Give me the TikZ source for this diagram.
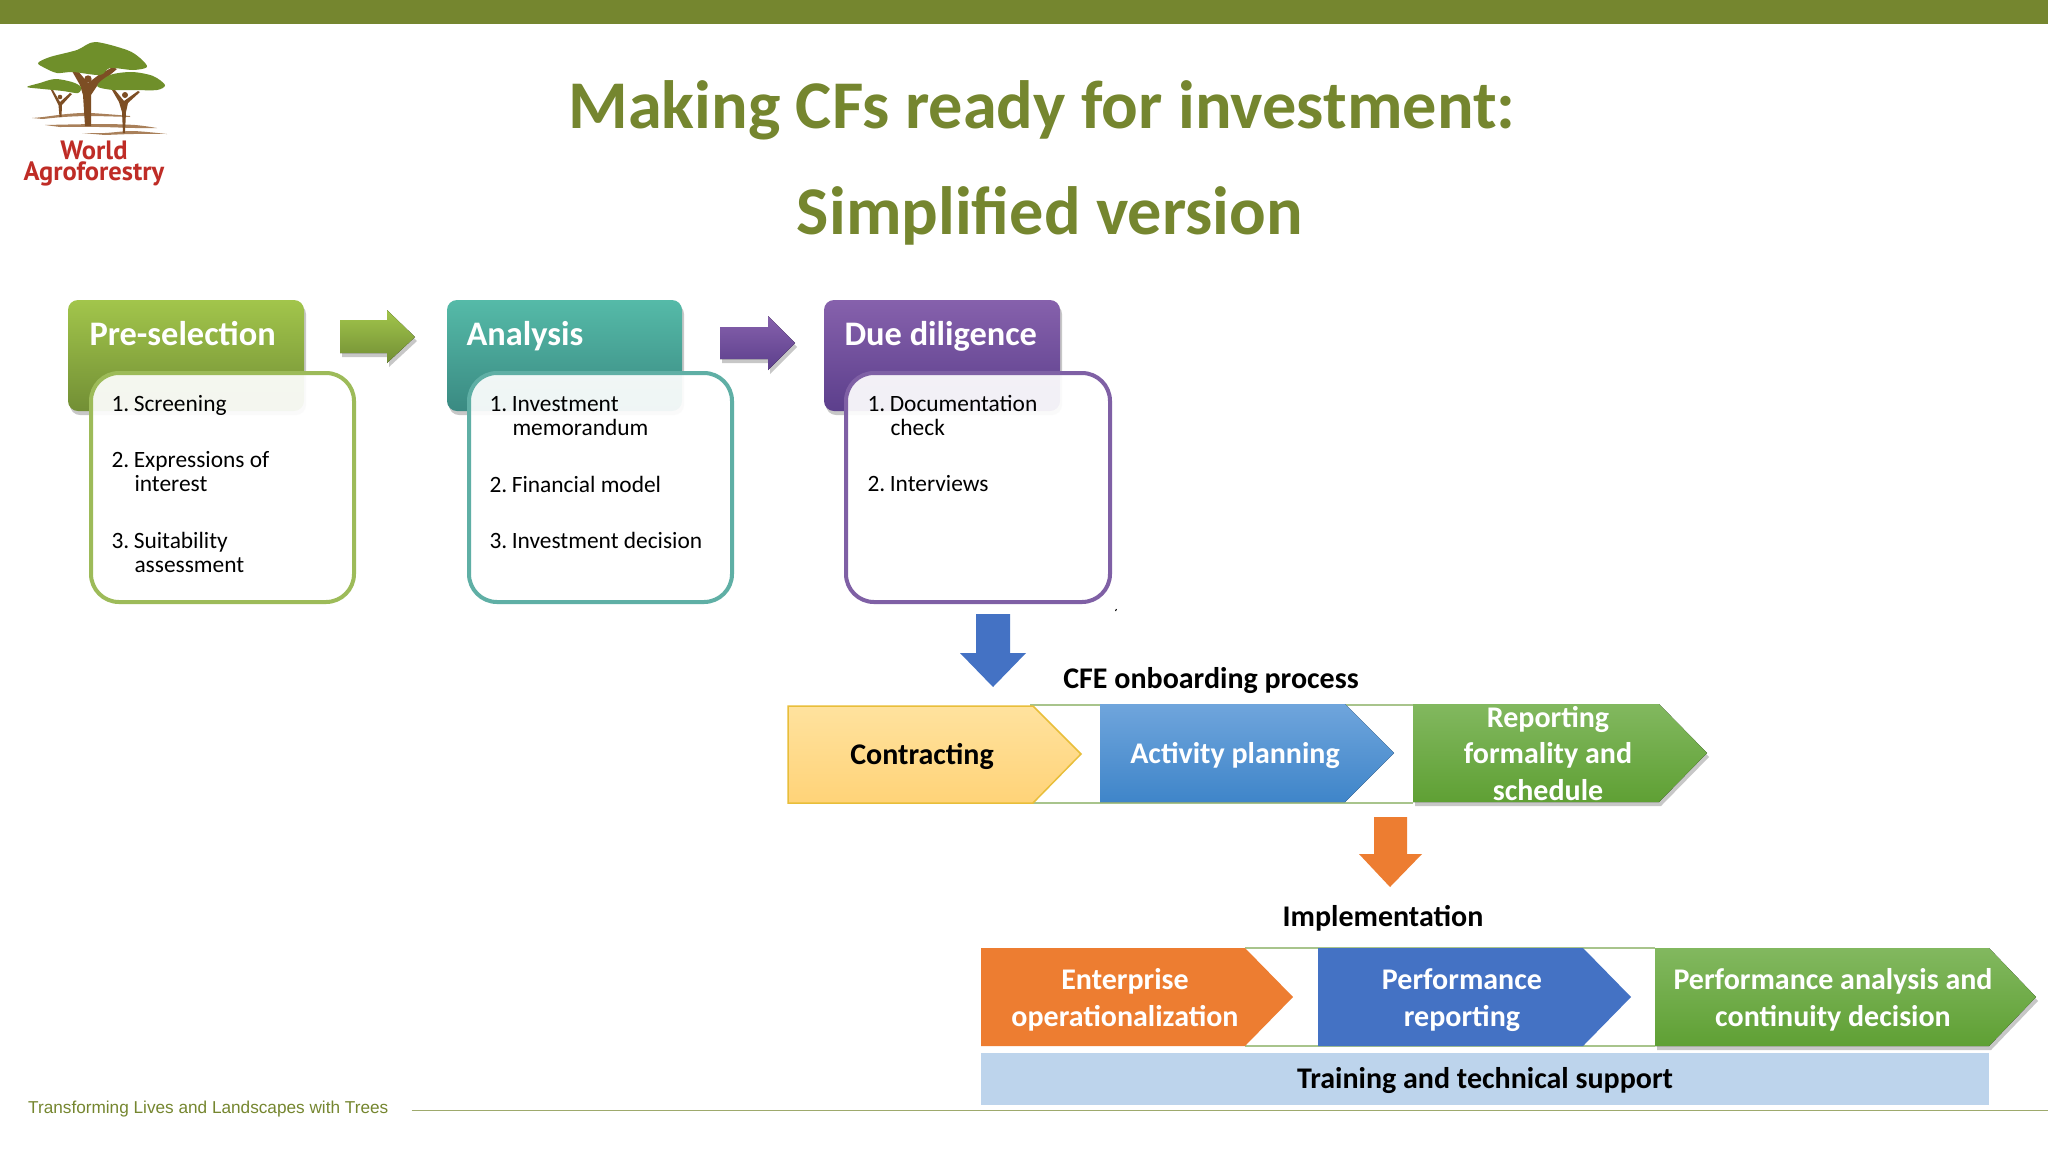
\documentclass[tikz,border=0pt]{standalone}
\usepackage{fontspec}
\usepackage{xcolor}
\setmainfont{Carlito}
\newfontfamily\footfont{Liberation Sans}
\newfontfamily\logofont{PT Sans}
\usetikzlibrary{shadows}

\definecolor{barolive}{HTML}{75862F}
\definecolor{logored}{HTML}{BF2C26}
\definecolor{logobrown}{HTML}{7D4E24}
\definecolor{logotan}{HTML}{A9805A}
\definecolor{logogreen}{HTML}{6F8F2A}
\definecolor{lineline}{HTML}{A8C48C}
\definecolor{greentop}{HTML}{A2C54B}
\definecolor{greenbot}{HTML}{728F35}
\definecolor{tealtop}{HTML}{55BAA8}
\definecolor{tealbot}{HTML}{3A8A82}
\definecolor{purpletop}{HTML}{8661AC}
\definecolor{purplebot}{HTML}{5C3F8C}
\definecolor{greenedge}{HTML}{9DBB59}
\definecolor{tealedge}{HTML}{5FAFA5}
\definecolor{purpleedge}{HTML}{7F60A5}
\definecolor{bluearrow}{HTML}{4472C4}
\definecolor{orangearrow}{HTML}{ED7D31}
\definecolor{contracttop}{HTML}{FFE29E}
\definecolor{contractbot}{HTML}{FFD378}
\definecolor{contractedge}{HTML}{E8BE3A}
\definecolor{activitytop}{HTML}{6FA5DC}
\definecolor{activitybot}{HTML}{3F85C9}
\definecolor{steptop}{HTML}{82B85F}
\definecolor{stepbot}{HTML}{5FA034}
\definecolor{trainblue}{HTML}{BDD4EC}

\tikzset{
  titletxt/.style={text=barolive, font=\fontsize{68.3}{72}\selectfont\bfseries},
  headtxt/.style={text=white, anchor=base west, font=\fontsize{34.4}{36}\selectfont\bfseries},
  itemtxt/.style={text=black, anchor=west, align=left, font=\fontsize{23.4}{24}\selectfont},
  steptxt/.style={text=white, align=center, font=\fontsize{30}{36.5}\selectfont\bfseries},
  blacktxt/.style={text=black, align=center, font=\fontsize{30}{36}\selectfont\bfseries},
  logotxt/.style={text=logored, inner sep=0pt, align=center, font=\logofont\fontsize{26.5}{21}\selectfont\bfseries},
  softshadow/.style={drop shadow={shadow xshift=2pt, shadow yshift=-4pt, opacity=0.22, fill=black}},
  listbox/.style={line width=4pt, rounded corners=28pt, fill=white, fill opacity=0.92},
}

\begin{document}
\begin{tikzpicture}[x=1pt, y=-1pt]
\useasboundingbox (0,0) rectangle (2048,1152);
\fill[white] (0,0) rectangle (2048,1152);
% top bar
\fill[barolive] (0,0) rectangle (2048,24);
% logo
\fill[logotan] plot[smooth] coordinates {(32,118) (43,117) (67,114) (90,113) (130,116)} -- plot[smooth] coordinates {(130,117) (90,116) (63,117) (43,119)} -- cycle;
\fill[logotan] plot[smooth] coordinates {(45,125) (100,124) (135,125) (157,128)} -- plot[smooth] coordinates {(157,128) (135,128) (100,127) (60,127)} -- cycle;
\fill[logotan] plot[smooth] coordinates {(82,133) (105,133) (133,131) (167,134)} -- plot[smooth] coordinates {(167,134) (133,134) (105,135)} -- cycle;
\fill[logobrown] (72,71) -- (78,71) -- (88,83) -- (100,74) -- (113,67) -- (117,69) -- (97,86) -- (91,95) -- (91,126) -- (85,126) -- (83,95) -- (80,85) -- cycle;
\fill[logobrown] (112,90) -- (115,90) -- (124,101) -- (138,91) -- (140,92) -- (128,103) -- (126,112) -- (125,133) -- (123,133) -- (122,112) -- (119,102) -- cycle;
\fill[logobrown] (51,90) -- (53,90) -- (60,102) -- (70,93) -- (72,94) -- (62,105) -- (61.5,117) -- (59.5,117) -- (58.5,105) -- cycle;
\fill[logogreen] plot[smooth cycle] coordinates {(38,63) (50,57) (77,50) (95,42) (127,50) (140,58) (147,67) (133,70) (110,68) (100,75) (73,72) (57,73) (45,68)};
\fill[logogreen] plot[smooth cycle] coordinates {(27,87) (40,83) (55,79) (72,82) (81,87) (78,93) (63,91) (43,89)};
\fill[logogreen] plot[smooth cycle] coordinates {(97,86) (110,75) (132,72) (153,76) (165,85) (157,90) (133,90) (113,90)};
\fill[logobrown] (88,79) circle (3.7);
\fill[logobrown] (125,95) circle (3);
\fill[logobrown] (60,97) circle (2.3);
\node[logotxt] (logoname) at (94,164) {World\\Agroforestry};
% title
\node[titletxt] (title1) at (1042,110) {Making CFs ready for investment:};
\node[titletxt] (title2) at (1050,216) {Simplified version};
% three stages
\draw[top color=greentop, bottom color=greenbot, draw=none, rounded corners=10pt, softshadow] (68,300) rectangle (304,411);
\draw[top color=tealtop, bottom color=tealbot, draw=none, rounded corners=10pt, softshadow] (447,300) rectangle (682,411);
\draw[top color=purpletop, bottom color=purplebot, draw=none, rounded corners=10pt, softshadow] (824,300) rectangle (1060,411);
\draw[listbox, draw=greenedge] (91,373) rectangle (354,602);
\draw[listbox, draw=tealedge] (469,373) rectangle (732,602);
\draw[listbox, draw=purpleedge] (846,373) rectangle (1110,602);
\node[headtxt] (presel) at (86,345) {Pre-selection};
\node[headtxt] (analysis) at (463,345) {Analysis};
\node[headtxt] (duedil) at (841,345) {Due diligence};
\node[itemtxt] (p1) at (108,405) {1.\hspace{4.5pt}Screening};
\node[itemtxt] (p2) at (108,472) {2.\hspace{4.5pt}Expressions of\\\hspace*{23pt}interest};
\node[itemtxt] (p3) at (108,552) {3.\hspace{4.5pt}Suitability\\\hspace*{23pt}assessment};
\node[itemtxt] (a1) at (486,416) {1.\hspace{4.5pt}Investment\\\hspace*{23pt}memorandum};
\node[itemtxt] (a2) at (486,484) {2.\hspace{4.5pt}Financial model};
\node[itemtxt] (a3) at (486,540) {3.\hspace{4.5pt}Investment decision};
\node[itemtxt] (d1) at (864,415) {1.\hspace{4.5pt}Documentation\\\hspace*{23pt}check};
\node[itemtxt] (d2) at (864,484) {2.\hspace{4.5pt}Interviews};
\draw[black, line width=1pt] (1116.5,609) -- (1115.5,611);
% block arrows
\fill[top color=greentop, bottom color=greenbot, softshadow] (340,320) -- (387,320) -- (387,310) -- (415,337) -- (387,363) -- (387,353) -- (340,353) -- cycle;
\fill[top color=purpletop, bottom color=purplebot, softshadow] (720,327) -- (768,327) -- (768,316) -- (795,343) -- (768,370) -- (768,359) -- (720,359) -- cycle;
\fill[bluearrow] (976,614) -- (1010,614) -- (1010,653) -- (1026,653) -- (993,687) -- (960,653) -- (976,653) -- cycle;
\fill[orangearrow] (1374,817) -- (1407,817) -- (1407,854) -- (1422,854) -- (1390,887) -- (1359,854) -- (1374,854) -- cycle;
% onboarding row
\node[blacktxt] (cfe) at (1211,680.5) {CFE onboarding process};
\draw[lineline, line width=2pt] (1030,705) -- (1413,705);
\draw[lineline, line width=2pt] (1030,803) -- (1413,803);
\draw[top color=contracttop, bottom color=contractbot, draw=contractedge, line width=1.5pt] (788,706) -- (1033,706) -- (1081,754) -- (1033,803) -- (788,803) -- cycle;
\fill[top color=activitytop, bottom color=activitybot] (1100,704) -- (1345,704) -- (1394,753) -- (1345,802) -- (1100,802) -- cycle;
\fill[top color=steptop, bottom color=stepbot, softshadow] (1413,704) -- (1659,704) -- (1707,753) -- (1659,802) -- (1413,802) -- cycle;
\node[blacktxt] (contract) at (922,756) {Contracting};
\node[steptxt] (activity) at (1235,755.5) {Activity planning};
\node[steptxt] (report) at (1548,753.5) {Reporting\\formality and\\schedule};
% implementation row
\node[blacktxt] (impl) at (1383,918) {Implementation};
\draw[lineline, line width=2pt] (1245,948) -- (1655,948);
\draw[lineline, line width=2pt] (1245,1046) -- (1655,1046);
\fill[orangearrow] (981,948) -- (1245,948) -- (1293,997) -- (1245,1046) -- (981,1046) -- cycle;
\fill[bluearrow] (1318,948) -- (1583,948) -- (1631,997) -- (1583,1046) -- (1318,1046) -- cycle;
\fill[top color=steptop, bottom color=stepbot, softshadow] (1655,948) -- (1989,948) -- (2036,997) -- (1989,1046) -- (1655,1046) -- cycle;
\node[steptxt] (enter) at (1125,1000) {Enterprise\\operationalization};
\node[steptxt] (perfrep) at (1462,1000) {Performance\\reporting};
\node[steptxt] (perfan) at (1833,1000) {Performance analysis and\\continuity decision};
\fill[trainblue] (981,1053) rectangle (1989,1105);
\node[blacktxt] (train) at (1485,1080) {Training and technical support};
% footer
\node[text=barolive, anchor=west, inner sep=0pt, font=\footfont\fontsize{17.2}{20}\selectfont] (foot) at (28,1109.5) {Transforming Lives and Landscapes with Trees};
\draw[barolive!70!white, line width=1.5pt] (foot.east) ++(23,1) -- (2048,1110.5);
\end{tikzpicture}
\end{document}
